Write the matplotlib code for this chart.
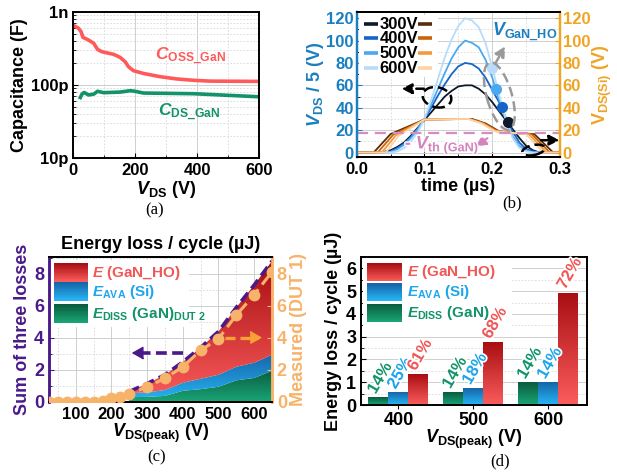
import numpy as np
import matplotlib
matplotlib.use('Agg')
import matplotlib.pyplot as plt
from matplotlib.colors import LinearSegmentedColormap, to_rgb
from matplotlib.patches import Ellipse, Rectangle
from matplotlib.transforms import ScaledTranslation
import matplotlib.patheffects as pe
from matplotlib.ticker import MultipleLocator, NullFormatter

plt.rcParams.update({
    'font.family': ['Liberation Sans', 'DejaVu Sans'],
    'font.weight': 'bold',
    'axes.labelweight': 'bold',
    'axes.titleweight': 'bold',
    'mathtext.fontset': 'custom',
    'mathtext.it': 'Liberation Sans:italic:bold',
    'mathtext.rm': 'Liberation Sans:bold',
    'mathtext.bf': 'Liberation Sans:bold',
    'mathtext.sf': 'Liberation Sans:bold',
    'xtick.labelsize': 11, 'ytick.labelsize': 11,
    'axes.linewidth': 1.4,
    'xtick.direction': 'in', 'ytick.direction': 'in',
})

# ---------------- data: (a) capacitance ----------------
v_oss = [0, 18, 26, 32, 50, 67, 79, 93, 131, 152, 168, 179, 195, 227, 281, 335, 388, 442, 600]
c_oss_pF = [662, 597, 538, 450, 413, 372, 308, 286, 263, 239, 209, 178, 157, 144, 130, 121, 116, 113, 112]
v_cds = [21, 29, 36, 50, 67, 79, 99, 152, 185, 200, 227, 388, 600]
c_ds_pF = [64, 75, 79, 73, 75, 82, 78.5, 80, 83.6, 82, 77.6, 76, 69]

# ---------------- data: (b) waveforms ----------------
t_gan = [0.00, 0.01, 0.02, 0.03, 0.04, 0.05, 0.06, 0.07, 0.08, 0.09, 0.10,
         0.11, 0.12, 0.13, 0.14, 0.15, 0.16, 0.17, 0.18, 0.19, 0.20,
         0.21, 0.22, 0.23, 0.24, 0.25, 0.26, 0.27, 0.28, 0.29, 0.30]
gan_300 = [0, 0, 0, 0, 0.5, 2, 5, 9, 15, 22, 29, 36, 43, 50, 55, 59, 60, 60, 57, 52, 45,
           37, 29, 21, 13, 6, 2, 0, 0, 0, 0]
gan_400 = [0, 0, 0, 0, 0, 1, 4, 8, 14, 21, 30, 40, 51, 61, 70, 77, 80, 79, 75, 67, 56,
           45, 31, 19, 9, 3, 1, 0, 0, 0, 0]
gan_500 = [0, 0, 0, 0, 0, 0.5, 3, 7, 13, 21, 30, 43, 57, 71, 84, 94, 100, 98, 94, 83, 67,
           47, 29, 15, 6, 2, 0, 0, 0, 0, 0]
gan_600 = [0, 0, 0, 0, 0, 0, 1, 4, 10, 18, 30, 47, 66, 85, 101, 113, 120, 118, 112, 98, 76,
           52, 30, 13, 4, 1, 0, 0, 0, 0, 0]
t_si_300 = [0, 0.025, 0.05, 0.1, 0.17, 0.19, 0.21, 0.23, 0.262, 0.29, 0.3]
t_si_400 = [0, 0.031, 0.054, 0.1, 0.168, 0.188, 0.208, 0.23, 0.258, 0.285, 0.3]
t_si_500 = [0, 0.037, 0.058, 0.1, 0.166, 0.186, 0.206, 0.23, 0.254, 0.28, 0.3]
t_si_600 = [0, 0.043, 0.062, 0.1, 0.164, 0.184, 0.204, 0.23, 0.25, 0.275, 0.3]
si_300 = [0, 0, 16.5, 29.5, 30, 26, 19, 17.5, 16.5, 0, 0]
si_400 = [0, 0, 16, 29.5, 30, 26, 19, 17.5, 16.5, 0, 0]
si_500 = [0, 0, 15.5, 29.5, 30, 26, 19, 17.5, 16.5, 0, 0]
si_600 = [0, 0, 15, 29.5, 30, 26, 19, 17.5, 16.5, 0, 0]
dot_t = [0.223, 0.214, 0.2056, 0.199]
dot_v = [27, 40.3, 56.7, 75.8]
levels = ['300V', '400V', '500V', '600V']
vth_level = 17

# ---------------- data: (c) energy vs V ----------------
v_area = [250, 300, 350, 400, 450, 500, 550, 600, 650]
e_diss = [0.3, 0.32, 0.38, 0.7, 0.8, 0.95, 1.35, 1.5, 1.95]
e_ava = [0.25, 0.28, 0.37, 0.5, 0.65, 0.75, 0.85, 0.95, 1.0]
e_ganho = [0.1, 0.55, 0.95, 1.3, 1.95, 2.7, 3.7, 4.85, 5.85]
v_meas = [25, 50, 75, 100, 125, 150, 175, 200, 225, 250, 300, 350, 400, 450, 500, 550, 600, 650]
e_meas = [0, 0, 0, 0, 0, 0.02, 0.06, 0.22, 0.3, 0.5, 0.95, 1.47, 2.2, 3.22, 3.95, 5.42, 6.7, 8.12]

# ---------------- data: (d) bars ----------------
groups = ['400', '500', '600']
d_diss = [0.33, 0.57, 0.99]
d_ava = [0.55, 0.74, 0.99]
d_gan = [1.35, 2.75, 4.93]
pct_diss = ['14%', '14%', '14%']
pct_ava = ['25%', '18%', '14%']
pct_gan = ['61%', '68%', '72%']

# ---------------- styles ----------------
RED = '#f25757'; BLUE_T = '#1ea6ea'; GREEN_T = '#12936a'
RED_G = ('#fb5c5c', '#a80f12')
BLUE_G = ('#27b6f6', '#1565a8')
GREEN_G = ('#19a576', '#0a5c3e')
AXBLUE = '#1a7fc0'; AXORANGE = '#f0a424'
PURPLE = '#4b1a8a'; MORANGE = '#f8b36a'
PINK = '#d583bd'
gan_cols = ['#0d1a2b', '#1565c8', '#4aa8f0', '#b8dcfa']
si_cols = ['#5a2d0c', '#c8650a', '#f7993a', '#fcd3a6']

fig = plt.figure(figsize=(6.17, 4.74), dpi=100)


def px_axes(l, r, t, b):
    W, H = 617., 474.
    return fig.add_axes([l / W, 1 - b / H, (r - l) / W, (b - t) / H])


def grid_style(ax, which='both', axis='both'):
    ax.grid(True, which='major', axis=axis, color='#cfcfcf', lw=0.7, ls='-')
    if which == 'both':
        ax.grid(True, which='minor', axis=axis, color='#d8d8d8', lw=0.6, ls=(0, (2, 2)))
    ax.set_axisbelow(True)


def grad_img(ax, extent, cb, ct, clip, z, clip_tr=None):
    cmap = LinearSegmentedColormap.from_list('g', [cb, ct])
    im = ax.imshow(np.linspace(0, 1, 128).reshape(-1, 1), cmap=cmap, origin='lower',
                   aspect='auto', extent=extent, zorder=z, interpolation='bilinear')
    if clip_tr is None:
        im.set_clip_path(clip)
    else:
        im.set_clip_path(clip, clip_tr)
    return im


def grad_key(ax, x0, x1, yc, h, cb, ct):
    n = 24
    cb = np.array(to_rgb(cb)); ct = np.array(to_rgb(ct))
    for i in range(n):
        f = i / (n - 1)
        ax.add_patch(Rectangle((x0, yc - h / 2 + i * h / n), x1 - x0, h / n + 0.002,
                               transform=ax.transAxes, color=cb * (1 - f) + ct * f,
                               lw=0, zorder=8, clip_on=False))


def darrow(ax, x0, y0, x1, y1, color, lw=1.8, dash=(3, 2), hl=0.6, hw=0.3):
    ax.annotate('', xy=(x1, y1), xytext=(x0, y0),
                arrowprops=dict(arrowstyle='-|>,head_length=%g,head_width=%g' % (hl, hw),
                                color=color, lw=lw, linestyle=(0, dash),
                                shrinkA=0, shrinkB=0), zorder=7)


def ell(ax, xy, w, h, ang, color, lw=1.8):
    tr = fig.dpi_scale_trans + ScaledTranslation(xy[0], xy[1], ax.transData)
    e = Ellipse((0, 0), w, h, angle=ang, fill=False, ls=(0, (4, 2)), lw=lw,
                ec=color, zorder=6, clip_on=False)
    e.set_transform(tr)
    ax.add_artist(e)


# ================= (a) =================
axa = px_axes(73, 259, 12, 158)
axa.plot(v_oss, np.array(c_oss_pF) * 1e-12, color='#ff5a5a', lw=2.6, solid_capstyle='butt')
axa.plot(v_cds, np.array(c_ds_pF) * 1e-12, color='#12936a', lw=2.6, solid_capstyle='butt')
axa.set_yscale('log')
axa.set_xlim(0, 600)
axa.set_ylim(1e-11, 1e-9)
axa.set_yticks([1e-11, 1e-10, 1e-9])
axa.set_yticklabels(['10p', '100p', '1n'])
axa.yaxis.set_minor_formatter(NullFormatter())
axa.set_xticks([0, 200, 400, 600])
axa.xaxis.set_minor_locator(MultipleLocator(100))
axa.tick_params(labelsize=12)
grid_style(axa)
axa.set_xlabel(r'$V_{\mathrm{DS}}$ (V)', fontsize=13, labelpad=1)
axa.set_ylabel('Capacitance (F)', fontsize=13, labelpad=2)
axa.text(265, 220e-12, r'$C_{\mathrm{OSS\_GaN}}$', color='#ff5a5a', fontsize=12.5, va='baseline')
axa.text(274, 37e-12, r'$C_{\mathrm{DS\_GaN}}$', color='#12936a', fontsize=12.5, va='baseline')
fig.text(155 / 617, 1 - 210 / 474, '(a)', family='Liberation Serif', weight='normal',
         fontsize=12, ha='center', va='center')

# ================= (b) =================
axb = px_axes(356.7, 560, 12, 157)
axb2 = axb.twinx()
gans = [gan_300, gan_400, gan_500, gan_600]
sis = [(t_si_300, si_300), (t_si_400, si_400), (t_si_500, si_500), (t_si_600, si_600)]
for i in range(4):
    axb.plot(t_gan, gans[i], color=gan_cols[i], lw=1.3, zorder=3)
for i in range(4):
    axb.plot(sis[i][0], sis[i][1], color=si_cols[i], lw=1.3, zorder=4)
for i in range(4):
    axb.plot(dot_t[i], dot_v[i], 'o', color=gan_cols[i], ms=7, zorder=5)
axb.axhline(vth_level, color='#d58cc0', lw=1.6, ls=(0, (5, 3)), zorder=5)
axb.set_xlim(0, 0.3)
axb.set_ylim(-4, 125.5)
axb2.set_ylim(-4, 125.5)
axb.set_xticks([0.0, 0.1, 0.2, 0.3])
axb.set_xticklabels(['0.0', '0.1', '0.2', '0.3'])
axb.xaxis.set_minor_locator(MultipleLocator(0.05))
axb.set_yticks(range(0, 121, 20))
axb.yaxis.set_minor_locator(MultipleLocator(10))
axb2.set_yticks(range(0, 121, 20))
axb.tick_params(axis='y', colors=AXBLUE, labelsize=12, pad=2)
axb.tick_params(axis='x', labelsize=12)
axb2.tick_params(axis='y', colors=AXORANGE, labelsize=12, pad=2)
grid_style(axb)
for a in (axb, axb2):
    a.spines['left'].set_color(AXBLUE)
    a.spines['right'].set_color(AXORANGE)
    a.spines['left'].set_linewidth(1.6)
    a.spines['right'].set_linewidth(1.6)
axb.set_xlabel(r'time (µs)', fontsize=13, labelpad=1)
axb.set_ylabel(r'$V_{\mathrm{DS}}$ / 5 (V)', fontsize=13, color=AXBLUE, labelpad=0)
axb2.set_ylabel(r'V$_{\mathrm{DS(Si)}}$ (V)', fontsize=13, color=AXORANGE, labelpad=0)
# legend
axb.add_patch(Rectangle((0.01, 0.55), 0.39, 0.43, transform=axb.transAxes, color='white',
                        zorder=7, lw=0))
rows_y = [0.917, 0.818, 0.715, 0.612]
for i in range(4):
    axb.plot([0.036, 0.105], [rows_y[i]] * 2, transform=axb.transAxes, color=gan_cols[i],
             lw=2.6, zorder=8, solid_capstyle='butt')
    axb.plot([0.30, 0.37], [rows_y[i]] * 2, transform=axb.transAxes, color=si_cols[i],
             lw=2.6, zorder=8, solid_capstyle='butt')
    axb.text(0.112, rows_y[i], levels[i], transform=axb.transAxes, fontsize=12,
             va='center', ha='left', zorder=9)
# annotations
axb.text(0.199, 107, r'$V_{\mathrm{GaN\_HO}}$', color=AXBLUE, fontsize=13, va='center', zorder=9)
axb.text(0.071, 3.6, r'- $V_{\mathrm{th\ (GaN)}}$', color=PINK, fontsize=13,
         va='baseline', zorder=9,
         path_effects=[pe.withStroke(linewidth=2, foreground='white')])
ell(axb, (0.2105, 50.4), 0.70, 0.25, -74, '#9a9a9a')
darrow(axb, 0.205, 80, 0.219, 95, '#9a9a9a')
ell(axb, (0.1185, 49.3), 0.29, 0.2, -12, 'black')
darrow(axb, 0.099, 57, 0.066, 57, 'black')
ell(axb, (0.261, 2.2), 0.23, 0.1, 12, 'black')
darrow(axb, 0.272, 11, 0.2995, 11, 'black')
darrow(axb, 0.193, 12.8, 0.176, 5.2, PINK, lw=1.5)
fig.text(512 / 617, 1 - 203 / 474, '(b)', family='Liberation Serif', weight='normal',
         fontsize=12, ha='center', va='center')

# ================= (c) =================
axc = px_axes(49, 272, 257, 402)
axc2 = axc.twinx()
va = np.array(v_area, float)
g1 = np.array(e_diss); g2 = g1 + np.array(e_ava); g3 = g2 + np.array(e_ganho)
for lo, hi, (cb, ct), top in [(np.zeros_like(g1), g1, GREEN_G, 2.0),
                              (g1, g2, BLUE_G, 3.0),
                              (g2, g3, RED_G, 8.8)]:
    poly = axc.fill_between(va, lo, hi, facecolor='none', edgecolor='none', zorder=2)
    grad_img(axc, [va.min(), va.max(), 0, top], cb, ct, poly.get_paths()[0], 2,
             clip_tr=axc.transData)
axc.plot(va, g3, color=PURPLE, lw=2.6, ls=(0, (3, 1.5)), zorder=4)
axc2.plot(v_meas, e_meas, color=MORANGE, lw=2.2, ls=(0, (4, 2)), zorder=4)
axc2.plot(v_meas, e_meas, 'o', color=MORANGE, ms=7.5, zorder=5)
for a in (axc, axc2):
    a.set_xlim(25, 650)
    a.set_ylim(0, 9.05)
axc.set_xticks(range(100, 601, 100))
axc.xaxis.set_minor_locator(MultipleLocator(50))
axc.set_yticks(range(0, 9, 2))
axc.yaxis.set_minor_locator(MultipleLocator(1))
axc2.set_yticks(range(0, 9, 2))
axc.tick_params(axis='y', colors=PURPLE, labelsize=13)
axc.tick_params(axis='x', labelsize=12)
axc2.tick_params(axis='y', colors=MORANGE, labelsize=13)
grid_style(axc)
for a in (axc, axc2):
    a.spines['left'].set_color(PURPLE)
    a.spines['right'].set_color(MORANGE)
    a.spines['left'].set_linewidth(1.8)
    a.spines['right'].set_linewidth(1.8)
axc.set_xlabel(r'$V_{\mathrm{DS(peak)}}$ (V)', fontsize=13, labelpad=0)
axc.set_ylabel('Sum of three losses', fontsize=13, color=PURPLE, labelpad=2)
axc2.set_ylabel('Measured (DUT 1)', fontsize=13, color=MORANGE, labelpad=2)
axc.set_title('Energy loss / cycle (µJ)', fontsize=13, pad=6)
axc.plot([400, 270], [3.06, 3.06], color=PURPLE, lw=2.6, ls=(0, (3, 1.5)), zorder=6)
darrow(axc, 272, 3.06, 257, 3.06, PURPLE, lw=1.0, dash=(10, 0), hl=0.7, hw=0.4)
axc2.plot([519, 610], [4.02, 4.02], color='#f7a236', lw=2.4, ls=(0, (3, 1.5)), zorder=6)
darrow(axc2, 608, 4.02, 622, 4.02, '#f7a236', lw=1.0, dash=(10, 0), hl=0.7, hw=0.4)
# legend
axc.add_patch(Rectangle((0.01, 0.52), 0.62, 0.46, transform=axc.transAxes, color='white',
                        zorder=7, lw=0))
leg_c = [(RED_G, RED, r'$E$ (GaN_HO)', 0.893),
         (BLUE_G, BLUE_T, r'$E_{\mathrm{AVA}}$ (Si)', 0.762),
         (GREEN_G, GREEN_T, r'$E_{\mathrm{DISS}}$ (GaN)$_{\mathrm{DUT\ 2}}$', 0.61)]
for (cb, ct), tc, lab, yc in leg_c:
    grad_key(axc, 0.022, 0.175, yc, 0.125, cb, ct)
    axc.text(0.195, yc, lab, transform=axc.transAxes, color=tc, fontsize=11,
             va='center', ha='left', zorder=9)
fig.text(157 / 617, 1 - 457 / 474, '(c)', family='Liberation Serif', weight='normal',
         fontsize=12, ha='center', va='center')

# ================= (d) =================
axd = px_axes(361, 587, 257, 405)
x = np.arange(len(groups))
bw = 0.267
sets = [(x - bw, d_diss, GREEN_G, pct_diss, GREEN_T),
        (x, d_ava, BLUE_G, pct_ava, BLUE_T),
        (x + bw, d_gan, RED_G, pct_gan, RED)]
for xs, vals, (cb, ct), pcts, tc in sets:
    bars = axd.bar(xs, vals, width=bw, color='none', edgecolor='none', zorder=2)
    for b, p in zip(bars, pcts):
        bx0, bx1 = b.get_x(), b.get_x() + b.get_width()
        h = b.get_height()
        grad_img(axd, [bx0, bx1, 0, h], cb, ct, b, 2)
        axd.text(b.get_x() + b.get_width() / 2 + 0.02, h + 0.05, p, rotation=60,
                 ha='center', va='bottom', color=tc, fontsize=12, zorder=6,
                 path_effects=[pe.withStroke(linewidth=2.5, foreground='white')])
axd.set_xlim(-0.5, 2.52)
axd.set_ylim(0, 6.5)
axd.set_xticks(x)
axd.set_xticklabels(groups)
axd.set_yticks(range(0, 7))
axd.yaxis.set_minor_locator(MultipleLocator(0.5))
axd.tick_params(axis='x', direction='out', length=3, pad=2, labelsize=13)
axd.tick_params(axis='y', labelsize=13)
axd.grid(True, which='major', axis='y', color='#cfcfcf', lw=0.7)
axd.grid(True, which='minor', axis='y', color='#d8d8d8', lw=0.6, ls=(0, (2, 2)))
axd.set_axisbelow(True)
axd.set_xlabel(r'$V_{\mathrm{DS(peak)}}$ (V)', fontsize=13, labelpad=-1)
axd.set_ylabel('Energy loss / cycle (µJ)', fontsize=13, labelpad=3)
axd.add_patch(Rectangle((0.01, 0.53), 0.66, 0.45, transform=axd.transAxes, color='white',
                        zorder=4, lw=0))
leg_d = [(RED_G, RED, r'$E$ (GaN_HO)', 0.896),
         (BLUE_G, BLUE_T, r'$E_{\mathrm{AVA}}$ (Si)', 0.762),
         (GREEN_G, GREEN_T, r'$E_{\mathrm{DISS}}$ (GaN)', 0.622)]
for (cb, ct), tc, lab, yc in leg_d:
    grad_key(axd, 0.025, 0.18, yc, 0.12, cb, ct)
    axd.text(0.205, yc, lab, transform=axd.transAxes, color=tc, fontsize=11,
             va='center', ha='left', zorder=9)
fig.text(500 / 617, 1 - 461 / 474, '(d)', family='Liberation Serif', weight='normal',
         fontsize=12, ha='center', va='center')

fig.savefig('out.png', dpi=100)
